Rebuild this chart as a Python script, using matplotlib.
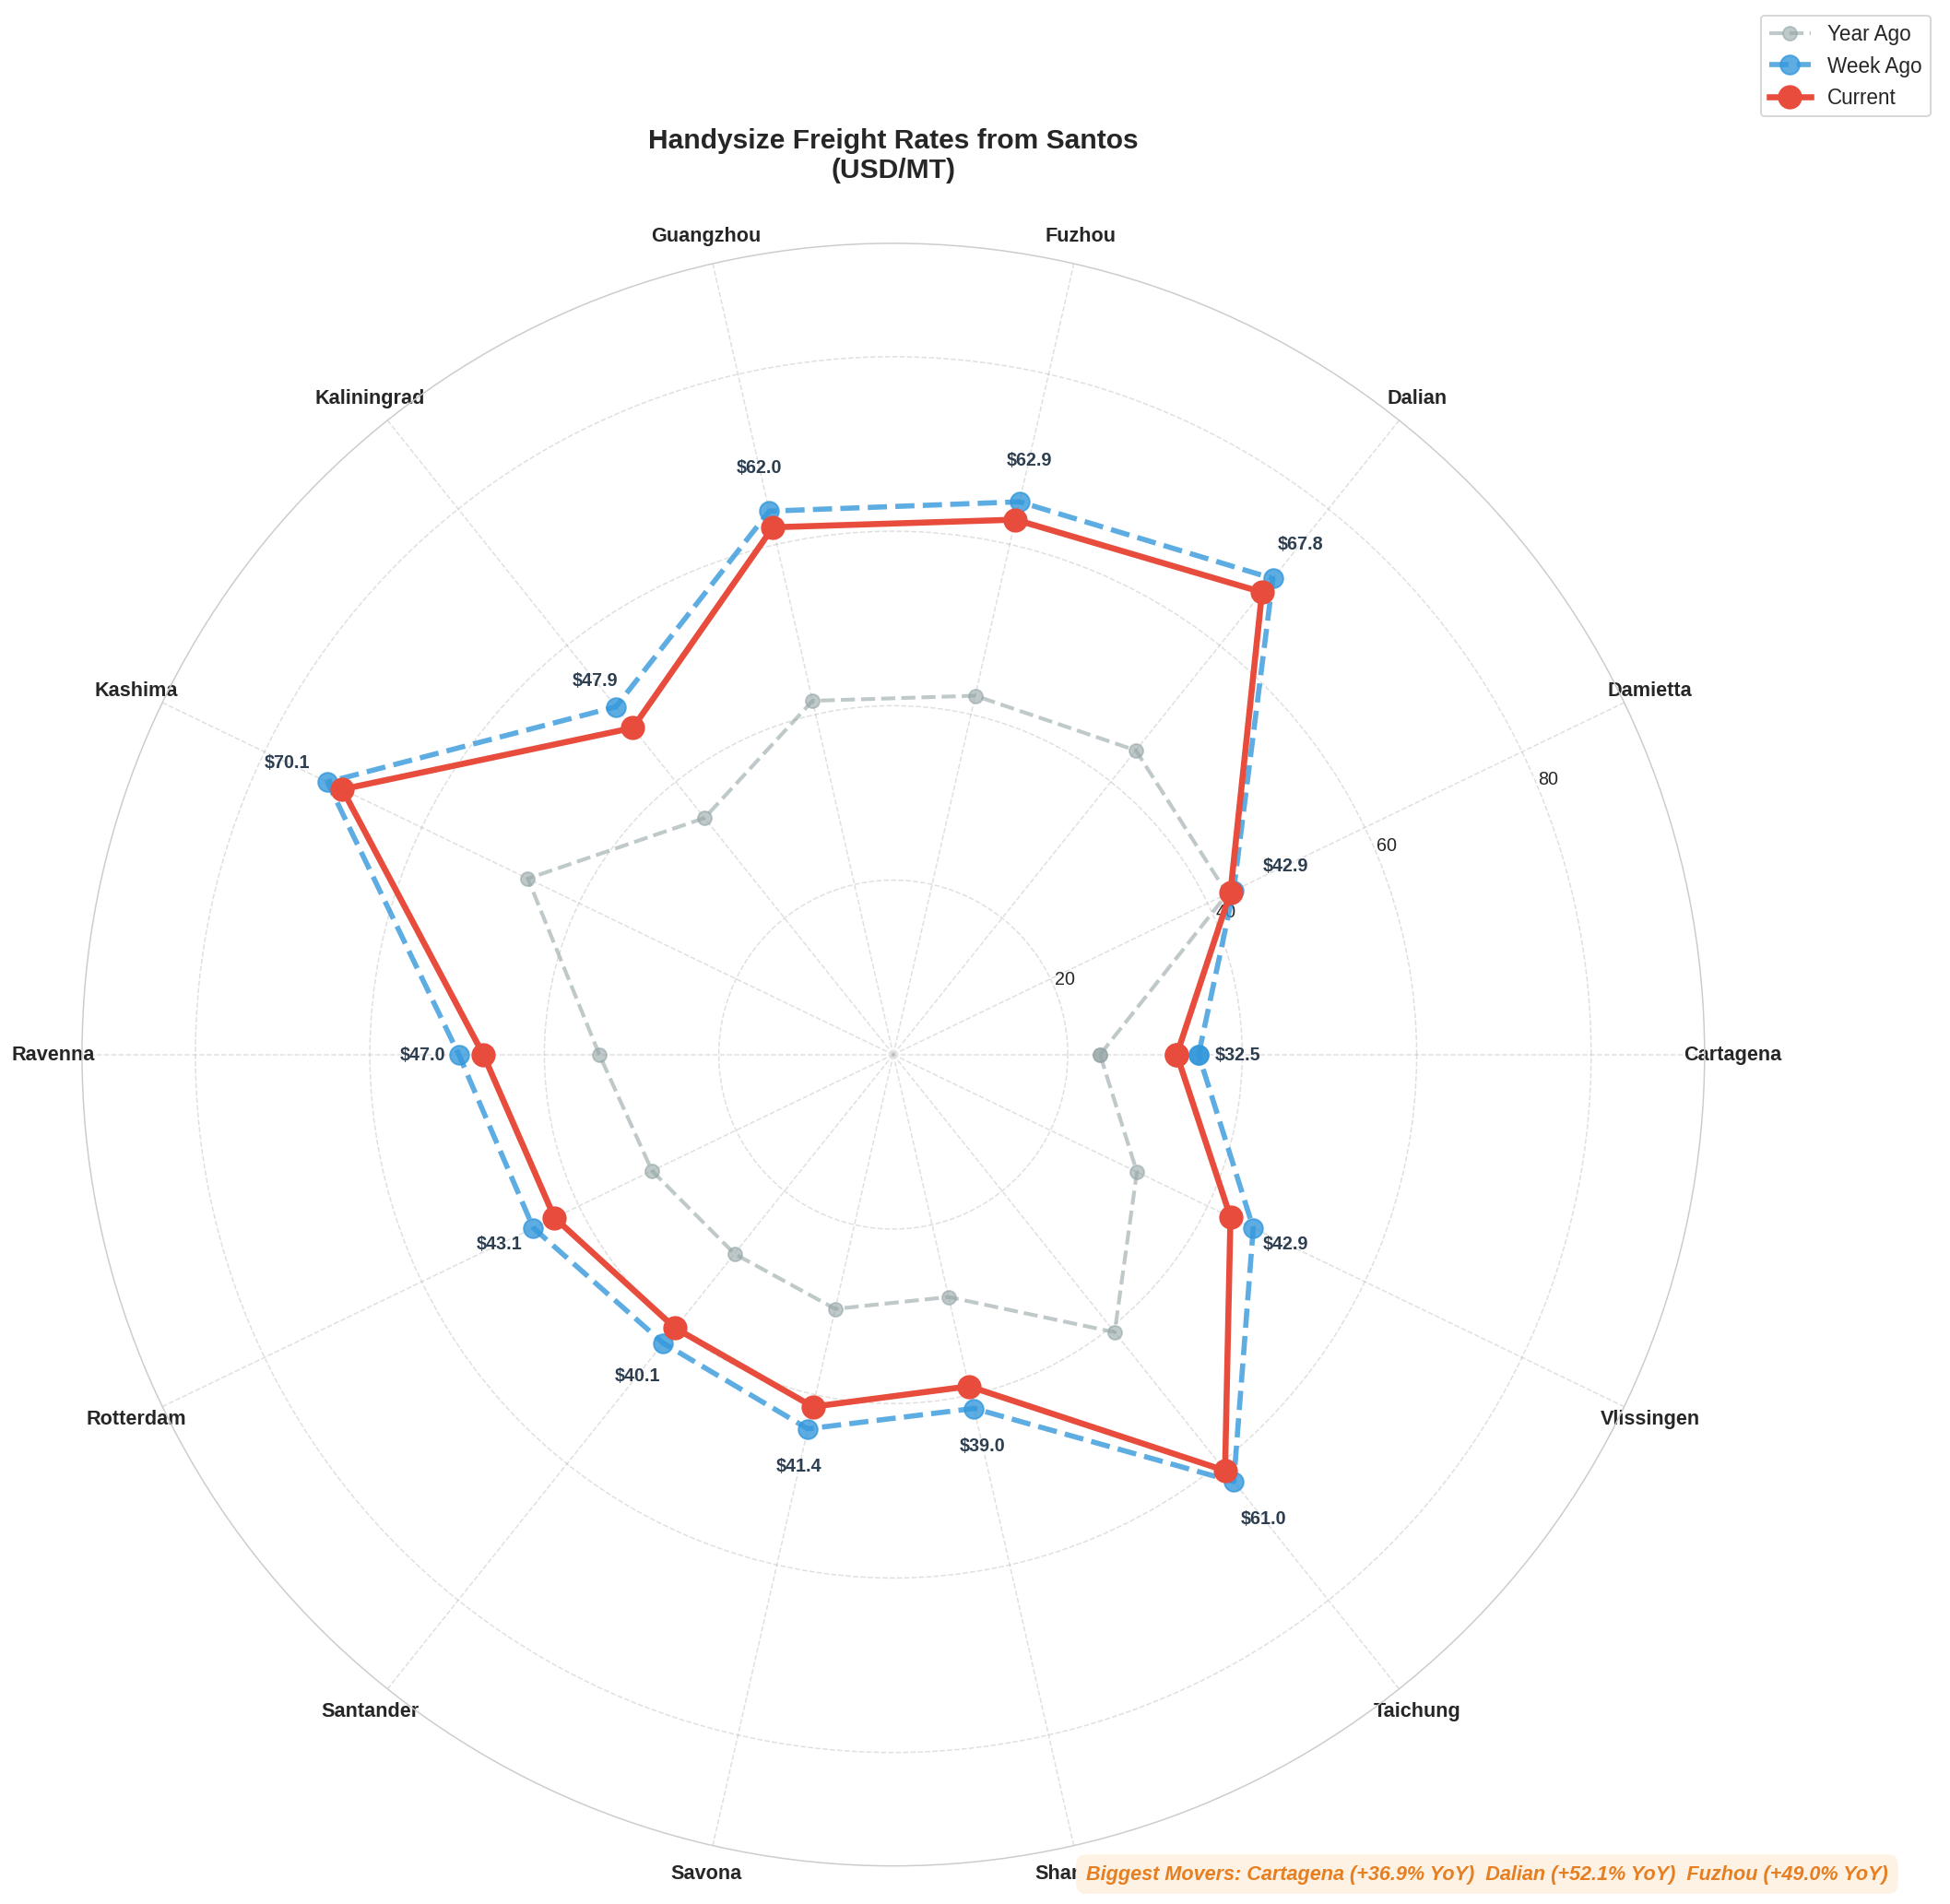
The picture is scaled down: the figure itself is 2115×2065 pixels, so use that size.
import numpy as np
import matplotlib
matplotlib.use("Agg")
import matplotlib.pyplot as plt

plt.rcParams['font.family'] = ['Liberation Sans', 'DejaVu Sans']
plt.rcParams['text.color'] = '#262626'
plt.rcParams['xtick.color'] = '#262626'
plt.rcParams['ytick.color'] = '#262626'

ports = ["Cartagena", "Damietta", "Dalian", "Fuzhou", "Guangzhou", "Kaliningrad", "Kashima",
         "Ravenna", "Rotterdam", "Santander", "Savona", "Shanghai", "Taichung", "Vlissingen"]
current = [32.5, 42.9, 67.8, 62.9, 62.0, 47.9, 70.1, 47.0, 43.1, 40.1, 41.4, 39.0, 61.0, 42.9]
week_ago = [35.0, 43.3, 69.8, 65.0, 63.9, 51.0, 72.0, 49.8, 45.8, 42.3, 44.0, 41.6, 62.6, 45.8]
year_ago = [23.7, 42.5, 44.6, 42.2, 41.6, 34.7, 46.5, 33.7, 30.7, 29.2, 29.9, 28.5, 40.7, 31.0]

n = len(ports)
ang = np.linspace(0, 2*np.pi, n, endpoint=False)
angc = np.append(ang, ang[0])
close = lambda v: v + v[:1]

fig = plt.figure(figsize=(15.67, 15.3), dpi=135)
ax = fig.add_axes([0.042, 0.02, 0.832, 0.852], polar=True)

ax.plot(angc, close(year_ago), '--', color='#95a5a6', lw=2.2, marker='o', ms=8, alpha=0.6, label='Year Ago')
ax.plot(angc, close(week_ago), '--', color='#3498db', lw=3, marker='o', ms=11, alpha=0.8, label='Week Ago')
ax.plot(angc, close(current), '-', color='#e74c3c', lw=3.5, marker='o', ms=13, label='Current')

for a, v in zip(ang, current):
    ax.text(a, v + 7, f"${v:.1f}", ha='center', va='center', fontsize=10.5, fontweight='bold', color='#2c3e50')

ax.set_ylim(0, 93)
ax.set_yticks([20, 40, 60, 80])
ax.set_yticklabels(['20', '40', '60', '80'], fontsize=10.5)
ax.set_rlabel_position(22.5)
ax.set_xticks(ang)
ax.set_xticklabels(ports, fontsize=11.5, fontweight='bold')
ax.tick_params(axis='x', pad=6)
ax.grid(True, ls='--', alpha=0.4)
ax.spines['polar'].set_color('#cccccc')

ax.set_title("Handysize Freight Rates from Santos\n(USD/MT)", fontsize=16, fontweight='bold', pad=38)
fig.legend(loc='upper right', bbox_to_anchor=(0.995, 0.997), fontsize=12)

fig.text(0.968, 0.013, "Biggest Movers: Cartagena (+36.9% YoY)  Dalian (+52.1% YoY)  Fuzhou (+49.0% YoY)",
         ha='right', fontsize=11.5, fontweight='bold', style='italic', color='#e67e22', zorder=10,
         bbox=dict(boxstyle='round,pad=0.5', facecolor='#fdf2e3', edgecolor='none', alpha=1.0))

fig.savefig("out.png", dpi=135)
